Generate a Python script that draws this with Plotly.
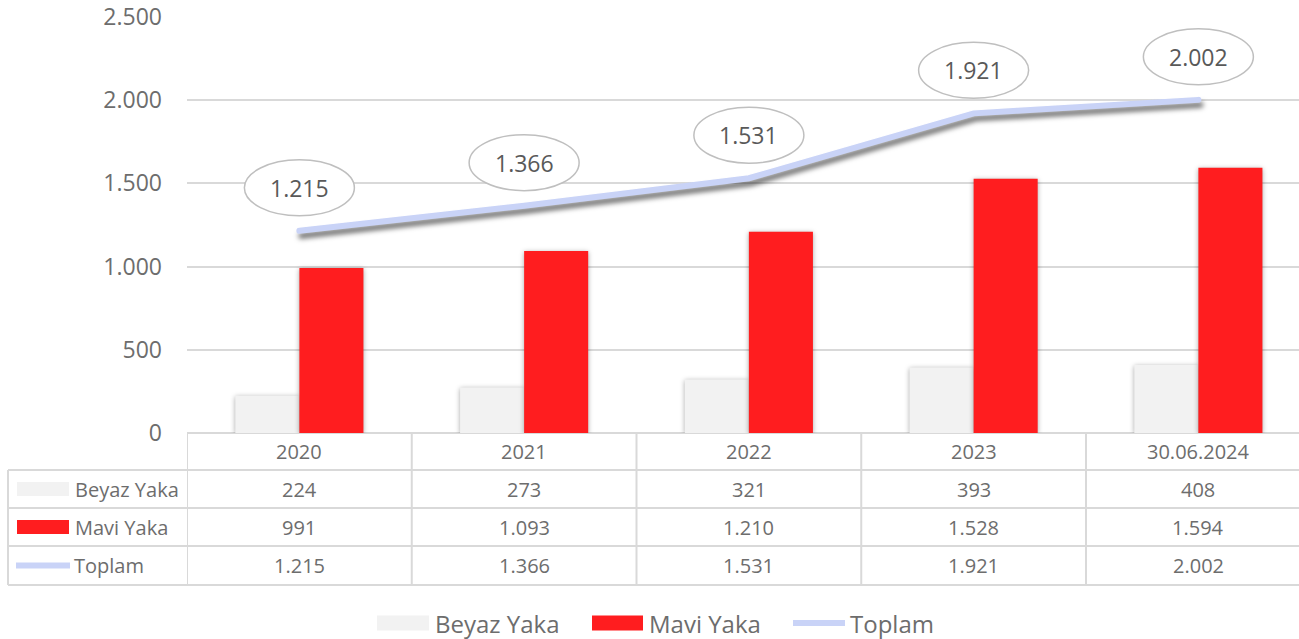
import plotly.graph_objects as go

# Personnel headcount by collar type
categories = ["2020", "2021", "2022", "2023", "30.06.2024"]
beyaz_yaka = [224, 273, 321, 393, 408]
mavi_yaka = [991, 1093, 1210, 1528, 1594]
toplam = [1215, 1366, 1531, 1921, 2002]
y_ticks = [0, 500, 1000, 1500, 2000, 2500]

W, H = 1299, 639
L, T, B = 187, 17, 206          # plot margins in px
PLOT_W = W - L
PLOT_H = H - T - B
COL_W = 224.75                  # px per category

FONT = "Open Sans"
TXT = "#6d6d6d"
GRID = "#d9d9d9"
C_BEYAZ = "#f2f2f2"
C_MAVI = "#ff1d1f"
C_TOPLAM = "#c9d3f7"


def tr(v):
    return f"{v:,}".replace(",", ".")


def px_x(p):
    return (p - L) / PLOT_W


def px_y(p):
    return (H - B - p) / PLOT_H


x = list(range(len(categories)))

fig = go.Figure()
fig.add_bar(x=x, y=beyaz_yaka, name="Beyaz Yaka", marker=dict(color=C_BEYAZ, line_width=0),
            offsetgroup="b")
fig.add_bar(x=x, y=mavi_yaka, name="Mavi Yaka", marker=dict(color=C_MAVI, line_width=0),
            offsetgroup="m")
fig.add_scatter(x=x, y=toplam, name="Toplam", mode="lines",
                line=dict(color=C_TOPLAM, width=6))

shapes = []
annotations = []

# Oval value callouts above the total line
for i, v in enumerate(toplam):
    shapes.append(dict(type="circle", xref="x", yref="y", xsizemode="pixel", ysizemode="pixel",
                       xanchor=i, yanchor=v, x0=-55, x1=55, y0=15, y1=71,
                       line=dict(color="#bfbfbf", width=1.5), fillcolor="white", layer="above"))
    annotations.append(dict(x=i, y=v, xref="x", yref="y", yshift=43, text=tr(v), showarrow=False,
                            font=dict(family=FONT, size=23, color="#595959")))

# Data table under the plot
row_lines = [433, 470, 508, 546, 585]
tline = dict(color=GRID, width=2)
shapes.append(dict(type="line", xref="paper", yref="paper", x0=0, x1=1.02,
                   y0=px_y(row_lines[0]), y1=px_y(row_lines[0]), line=tline, layer="below"))
for r in row_lines[1:]:
    shapes.append(dict(type="line", xref="paper", yref="paper", x0=px_x(8), x1=1.02,
                       y0=px_y(r), y1=px_y(r), line=tline, layer="below"))
shapes.append(dict(type="line", xref="paper", yref="paper", x0=px_x(8), x1=px_x(8),
                   y0=px_y(row_lines[1]), y1=px_y(row_lines[-1]), line=tline))
for i in range(len(categories)):
    shapes.append(dict(type="line", xref="x", yref="paper", x0=i - 0.5, x1=i - 0.5,
                       y0=px_y(row_lines[0]), y1=px_y(row_lines[-1]), line=tline))

tfont = dict(family=FONT, size=20, color=TXT)
rows = [categories, [tr(v) for v in beyaz_yaka], [tr(v) for v in mavi_yaka], [tr(v) for v in toplam]]
for r, vals in enumerate(rows):
    yc = (row_lines[r] + row_lines[r + 1]) / 2
    for i, s in enumerate(vals):
        annotations.append(dict(x=i, y=px_y(yc), xref="x", yref="paper", text=s, showarrow=False,
                                font=tfont, xanchor="center", yanchor="middle"))

series_keys = [("Beyaz Yaka", C_BEYAZ, "bar"), ("Mavi Yaka", C_MAVI, "bar"), ("Toplam", C_TOPLAM, "line")]
for r, (name, col, kind) in enumerate(series_keys):
    yc = (row_lines[r + 1] + row_lines[r + 2]) / 2
    if kind == "bar":
        shapes.append(dict(type="rect", xref="paper", yref="paper", x0=px_x(17), x1=px_x(69),
                           y0=px_y(yc + 7), y1=px_y(yc - 7), fillcolor=col, line_width=0))
        tx = 73
    else:
        shapes.append(dict(type="line", xref="paper", yref="paper", x0=px_x(16), x1=px_x(70),
                           y0=px_y(yc), y1=px_y(yc), line=dict(color=col, width=6)))
        tx = 72
    annotations.append(dict(x=px_x(tx), y=px_y(yc), xref="paper", yref="paper", text=name,
                            showarrow=False, xanchor="left", yanchor="middle", font=tfont))

# Legend along the bottom
lfont = dict(family=FONT, size=24, color=TXT)
ly = 623
legend_items = [("Beyaz Yaka", C_BEYAZ, "bar", 377, 429, 433),
                ("Mavi Yaka", C_MAVI, "bar", 592, 643, 647),
                ("Toplam", C_TOPLAM, "line", 793, 845, 848)]
for name, col, kind, a, b, tx in legend_items:
    if kind == "bar":
        shapes.append(dict(type="rect", xref="paper", yref="paper", x0=px_x(a), x1=px_x(b),
                           y0=px_y(ly + 7.5), y1=px_y(ly - 7.5), fillcolor=col, line_width=0))
    else:
        shapes.append(dict(type="line", xref="paper", yref="paper", x0=px_x(a), x1=px_x(b),
                           y0=px_y(ly), y1=px_y(ly), line=dict(color=col, width=6)))
    annotations.append(dict(x=px_x(tx), y=px_y(ly), xref="paper", yref="paper", text=name,
                            showarrow=False, xanchor="left", yanchor="middle", font=lfont))

fig.update_layout(
    width=W, height=H,
    margin=dict(l=L, r=0, t=T, b=B, pad=0),
    paper_bgcolor="white", plot_bgcolor="white",
    showlegend=False,
    barmode="group", bargap=0.43, bargroupgap=0,
    separators=",.",
    shapes=shapes, annotations=annotations,
    xaxis=dict(range=[-0.5, -0.5 + PLOT_W / COL_W], showticklabels=False, showgrid=False,
               zeroline=False, showline=False),
    yaxis=dict(range=[0, 2500], tickvals=y_ticks, tickformat=",d", showgrid=True, gridcolor=GRID,
               gridwidth=1.5, zeroline=False, showline=False, ticklabelstandoff=24,
               tickfont=dict(family=FONT, size=23, color=TXT)),
)

# Soft drop shadows under the bars and the total line
post = """
var gd = document.getElementById('{plot_id}');
gd.querySelectorAll('.scatterlayer path.js-line').forEach(function(p){
  p.style.filter = 'drop-shadow(2px 5px 2.5px rgba(0,0,0,0.55))';
  p.setAttribute('stroke-linecap', 'round');
  p.style.strokeLinecap = 'round';
});
gd.querySelectorAll('.barlayer .point path').forEach(function(p){
  p.style.filter = 'drop-shadow(0px 1px 2.5px rgba(0,0,0,0.35))';
});
"""

fig.write_html("out.html", post_script=post)
